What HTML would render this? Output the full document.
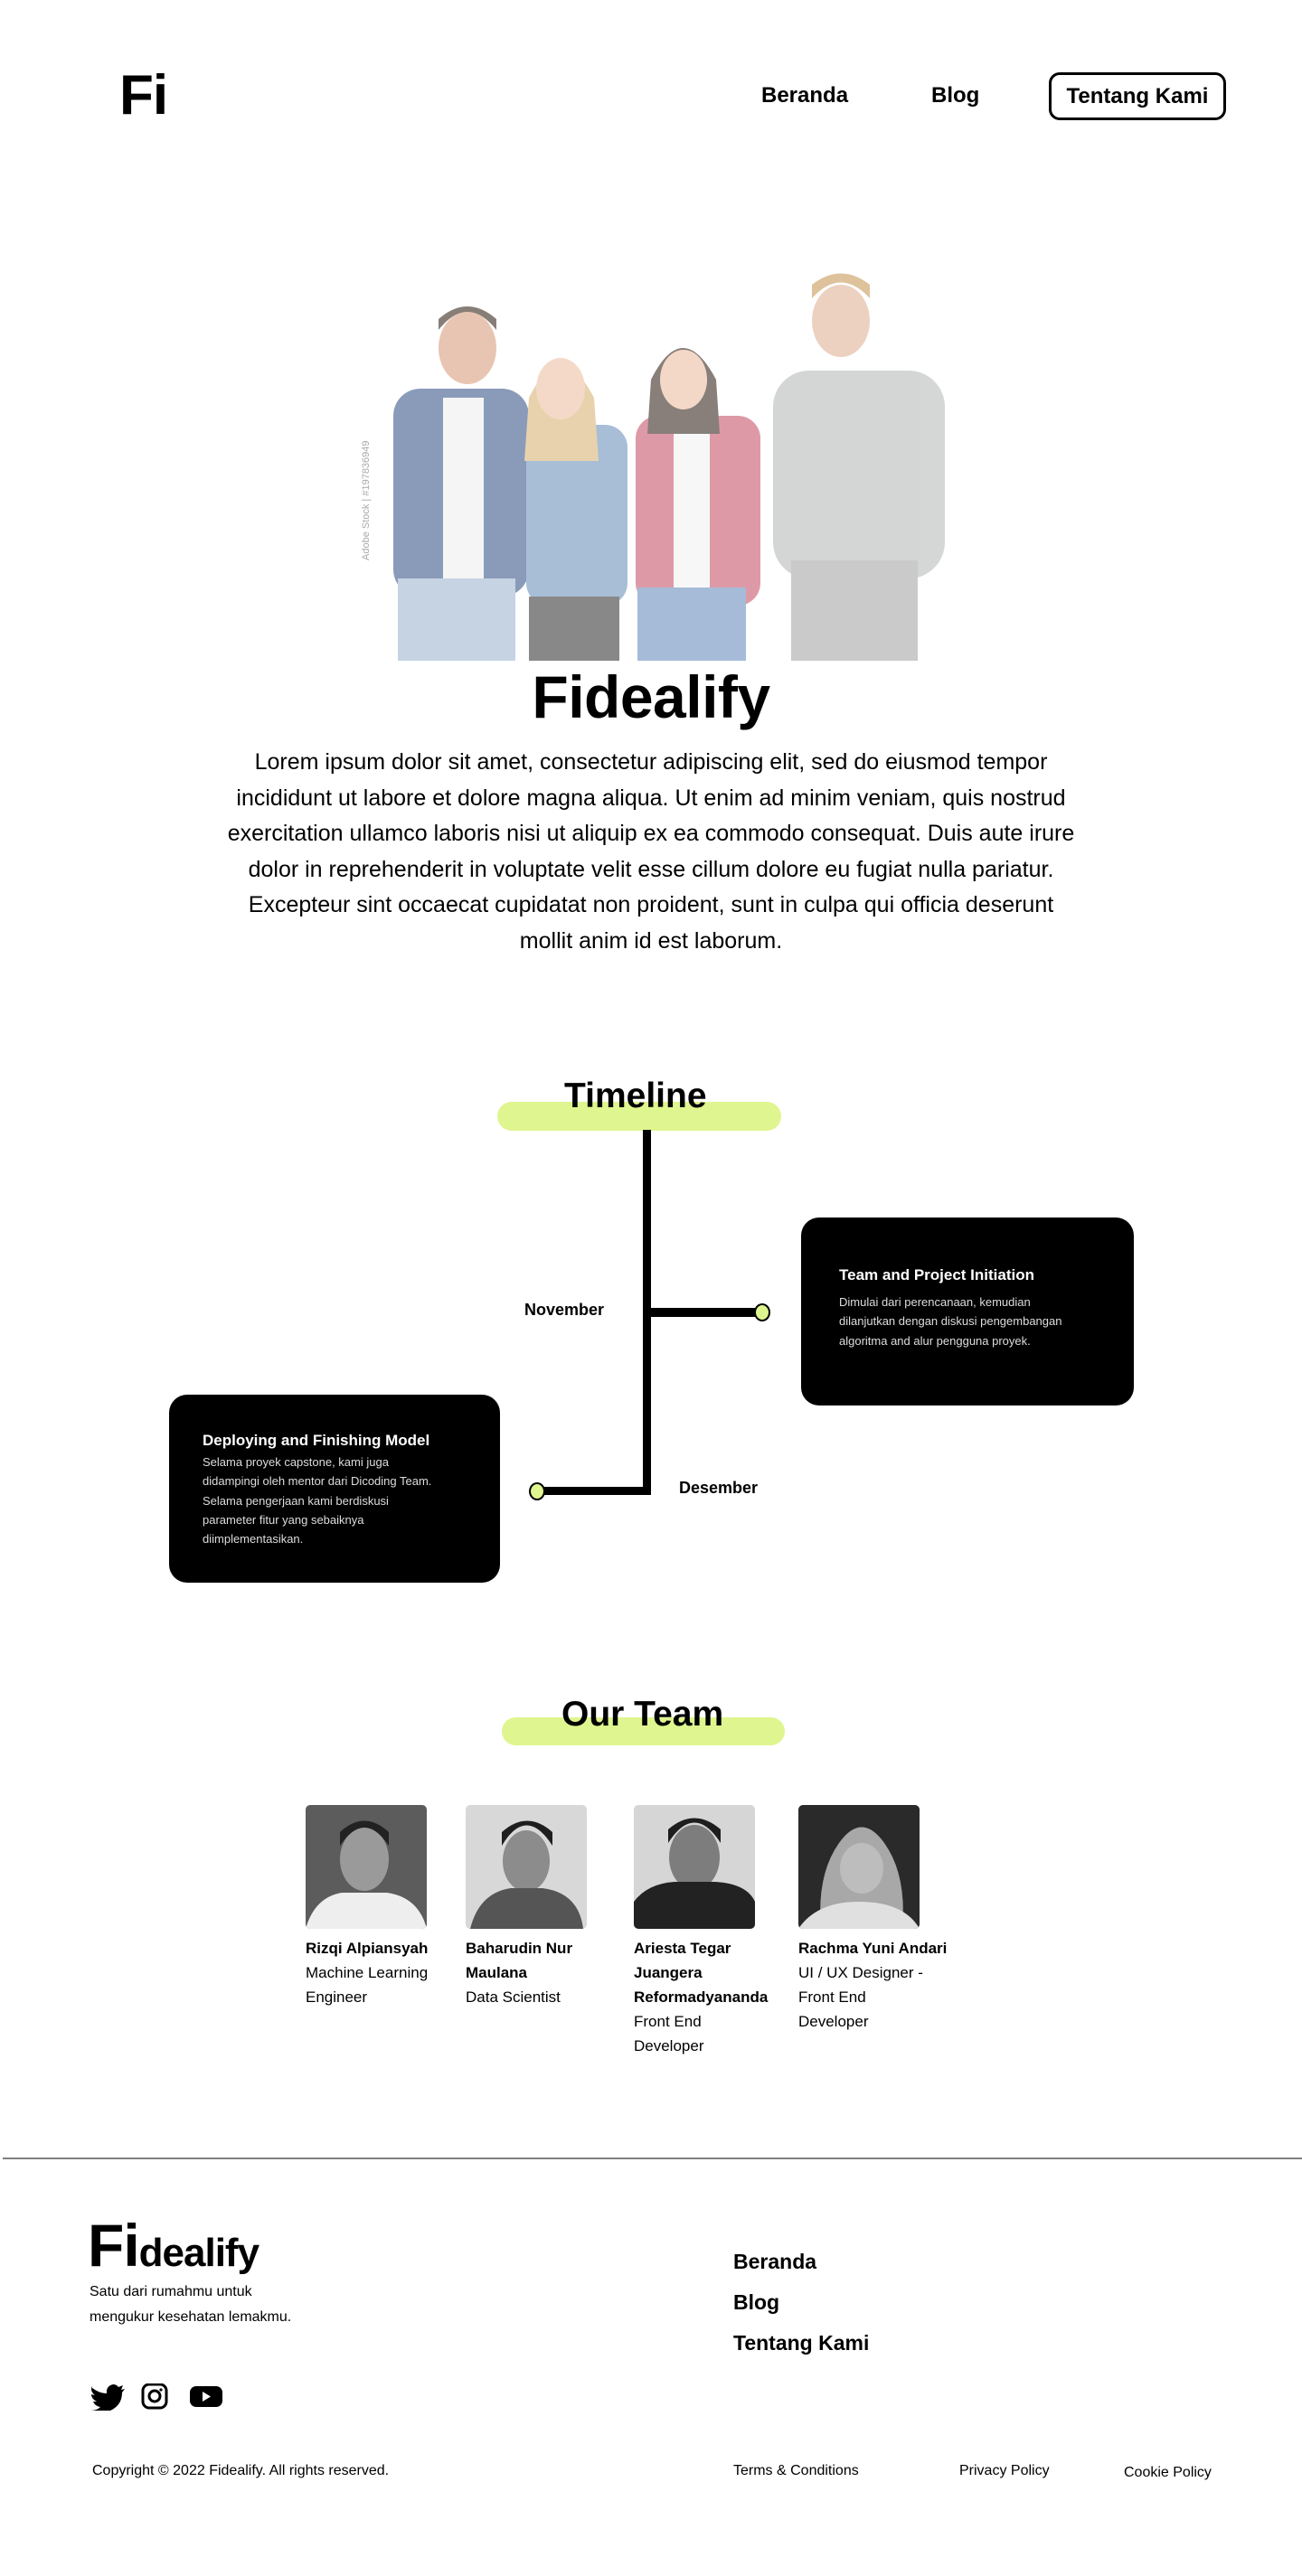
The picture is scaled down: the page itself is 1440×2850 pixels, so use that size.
<!DOCTYPE html>
<html><head><meta charset="utf-8">
<style>
*{margin:0;padding:0;box-sizing:border-box}
body{width:1440px;height:2850px;position:relative;background:#fff;font-family:"Liberation Sans",sans-serif;color:#000;overflow:hidden}
.a{position:absolute;white-space:nowrap}
.b{font-weight:bold}
.nav{font-size:24px;font-weight:bold;top:92px}
.btn{left:1160px;top:80px;width:196px;height:53px;border:3px solid #000;border-radius:12px;font-size:24px;font-weight:bold;text-align:center;line-height:47px}
.para{left:0;width:1440px;top:824px;font-size:25px;line-height:39.5px;text-align:center}
.pill{position:absolute;background:#dff58f;border-radius:16px}
.card{position:absolute;background:#000;border-radius:20px;color:#fff}
.card h4{position:absolute;font-size:17px;font-weight:bold;white-space:nowrap}
.card p{position:absolute;font-size:13px;line-height:21.3px;color:#ddd;white-space:nowrap}
.dot{position:absolute;width:18px;height:20px;border-radius:50%;background:#dff58f;border:2px solid #000}
.ph{position:absolute;width:134px;height:137px;border-radius:5px;overflow:hidden}
.tm{position:absolute;top:2145px;font-size:17px;line-height:27px;white-space:nowrap}
.tm b{display:block}
.fn{font-size:23px;font-weight:bold;left:811px}
.fs{font-size:16px;top:2728px}
</style></head><body>

<div class="a b" style="left:132px;top:70px;font-size:62px;letter-spacing:-1px">Fi</div>
<div class="a nav" style="left:842px">Beranda</div>
<div class="a nav" style="left:1030px">Blog</div>
<div class="a btn">Tentang Kami</div>

<svg class="a" style="left:392px;top:268px" width="694" height="463" viewBox="392 268 694 463">
<g opacity="0.6">
<rect x="855" y="410" width="190" height="230" rx="40" fill="#b9bcbc"/>
<rect x="875" y="620" width="140" height="111" fill="#a8a8a8"/>
<ellipse cx="930" cy="355" rx="32" ry="40" fill="#e0b497"/>
<path d="M898 330 q32 -35 64 0 l0 -15 q-32 -25 -64 0z" fill="#c89a5a"/>
<rect x="435" y="430" width="150" height="230" rx="30" fill="#3c5a8c"/>
<rect x="490" y="440" width="45" height="200" fill="#f0f0f0"/>
<rect x="440" y="640" width="130" height="91" fill="#9fb6d0"/>
<ellipse cx="517" cy="385" rx="32" ry="40" fill="#d9a07f"/>
<path d="M485 365 q32 -40 64 0 l0 -12 q-32 -28 -64 0z" fill="#3a2a20"/>
<rect x="582" y="470" width="112" height="200" rx="25" fill="#6f93be"/>
<rect x="585" y="660" width="100" height="71" fill="#3a3a3a"/>
<path d="M585 440 q35 -70 72 0 l5 70 l-82 0z" fill="#d9b57a"/>
<ellipse cx="620" cy="430" rx="27" ry="34" fill="#eec0a5"/>
<rect x="703" y="460" width="138" height="210" rx="25" fill="#c9566d"/>
<rect x="745" y="475" width="40" height="180" fill="#f2f2f2"/>
<rect x="705" y="650" width="120" height="81" fill="#6a8fbf"/>
<path d="M720 420 q35 -70 72 0 l4 60 l-80 0z" fill="#3a2a22"/>
<ellipse cx="756" cy="420" rx="26" ry="33" fill="#eebfa2"/>
</g>
<text x="408" y="620" font-size="11" fill="#aaa" transform="rotate(-90 408 620)" font-family="Liberation Sans">Adobe Stock | #197836949</text>
</svg>

<div class="a b" style="left:0;width:1440px;text-align:center;top:733px;font-size:66px;letter-spacing:-0.5px">Fidealify</div>
<div class="a para">Lorem ipsum dolor sit amet, consectetur adipiscing elit, sed do eiusmod tempor<br>incididunt ut labore et dolore magna aliqua. Ut enim ad minim veniam, quis nostrud<br>exercitation ullamco laboris nisi ut aliquip ex ea commodo consequat. Duis aute irure<br>dolor in reprehenderit in voluptate velit esse cillum dolore eu fugiat nulla pariatur.<br>Excepteur sint occaecat cupidatat non proident, sunt in culpa qui officia deserunt<br>mollit anim id est laborum.</div>

<div class="pill" style="left:550px;top:1219px;width:314px;height:32px"></div>
<div class="a b" style="left:624px;top:1191px;font-size:39px">Timeline</div>
<div class="a" style="left:711px;top:1250px;width:9px;height:404px;background:#000"></div>
<div class="a" style="left:715px;top:1447px;width:122px;height:10px;background:#000"></div>
<div class="dot" style="left:834px;top:1442px"></div>
<div class="a" style="left:594px;top:1645px;width:126px;height:9px;background:#000"></div>
<div class="dot" style="left:585px;top:1640px"></div>
<div class="a b" style="left:580px;top:1439px;font-size:18px">November</div>
<div class="a b" style="left:751px;top:1636px;font-size:18px">Desember</div>

<div class="card" style="left:886px;top:1347px;width:368px;height:208px">
<h4 style="left:42px;top:54px">Team and Project Initiation</h4>
<p style="left:42px;top:83px">Dimulai dari perencanaan, kemudian<br>dilanjutkan dengan diskusi pengembangan<br>algoritma and alur pengguna proyek.</p>
</div>
<div class="card" style="left:187px;top:1543px;width:366px;height:208px">
<h4 style="left:37px;top:41px">Deploying and Finishing Model</h4>
<p style="left:37px;top:64px">Selama proyek capstone, kami juga<br>didampingi oleh mentor dari Dicoding Team.<br>Selama pengerjaan kami berdiskusi<br>parameter fitur yang sebaiknya<br>diimplementasikan.</p>
</div>

<div class="pill" style="left:555px;top:1900px;width:313px;height:31px"></div>
<div class="a b" style="left:621px;top:1875px;font-size:39px">Our Team</div>

<div class="ph" style="left:338px;top:1997px;background:#5c5c5c">
<svg width="134" height="137"><ellipse cx="65" cy="60" rx="27" ry="35" fill="#9a9a9a"/><path d="M38 45 q27 -40 54 0 l0 -15 q-27 -25 -54 0z" fill="#222"/><path d="M0 137 q10 -35 40 -40 l50 0 q35 5 44 40z" fill="#eee"/></svg></div>
<div class="ph" style="left:515px;top:1997px;background:#d8d8d8">
<svg width="134" height="137"><ellipse cx="67" cy="62" rx="26" ry="34" fill="#8c8c8c"/><path d="M40 45 q27 -45 56 0 l0 -15 q-28 -25 -56 0z" fill="#1e1e1e"/><path d="M5 137 q10 -40 45 -45 l35 0 q40 5 45 45z" fill="#555"/></svg></div>
<div class="ph" style="left:701px;top:1997px;background:#d6d6d6">
<svg width="134" height="137"><ellipse cx="67" cy="58" rx="28" ry="36" fill="#7d7d7d"/><path d="M38 42 q29 -45 58 0 l0 -15 q-29 -25 -58 0z" fill="#1e1e1e"/><path d="M0 137 l0 -30 q15 -20 45 -22 l45 0 q35 2 44 22 l0 30z" fill="#222"/></svg></div>
<div class="ph" style="left:883px;top:1997px;background:#2a2a2a">
<svg width="134" height="137"><path d="M25 137 q-5 -60 20 -95 q25 -35 50 0 q25 35 20 95z" fill="#a8a8a8"/><ellipse cx="70" cy="70" rx="24" ry="28" fill="#bdbdbd"/><path d="M0 137 q20 -30 67 -30 q50 0 67 30z" fill="#e0e0e0"/></svg></div>

<div class="tm" style="left:338px;top:2142px"><b>Rizqi Alpiansyah</b>Machine Learning<br>Engineer</div>
<div class="tm" style="left:515px;top:2142px"><b>Baharudin Nur<br>Maulana</b>Data Scientist</div>
<div class="tm" style="left:701px;top:2142px"><b>Ariesta Tegar<br>Juangera<br>Reformadyananda</b>Front End<br>Developer</div>
<div class="tm" style="left:883px;top:2142px"><b>Rachma Yuni Andari</b>UI / UX Designer -<br>Front End<br>Developer</div>

<div class="a" style="left:3px;top:2387px;width:1437px;height:2px;background:#808080"></div>
<div class="a b" style="left:97px;top:2446px;letter-spacing:-1px"><span style="font-size:66px">Fi</span><span style="font-size:44px">dealify</span></div>
<div class="a" style="left:99px;top:2522px;font-size:16px;line-height:28px">Satu dari rumahmu untuk<br>mengukur kesehatan lemakmu.</div>
<svg class="a" style="left:100px;top:2637px" width="150" height="30">
<path d="M2 5 q8 6 16 6 q-1 -8 7 -10 q4 0 6 3 l5 -2 l-2 5 l4 -1 l-3 4 q0 14 -13 20 q-10 4 -22 0 q7 0 11 -4 q-6 -1 -8 -6 l4 0 q-6 -3 -6 -8 l4 1 q-6 -5 -3 -10z" fill="#000"/>
<rect x="58" y="1" width="26" height="26" rx="7" fill="none" stroke="#000" stroke-width="3"/><circle cx="71" cy="14" r="6" fill="none" stroke="#000" stroke-width="3"/><circle cx="78" cy="7" r="1.6" fill="#000"/>
<rect x="110" y="3" width="36" height="23" rx="7" fill="#000"/><path d="M124 9 l9 5.5 l-9 5.5z" fill="#fff"/>
</svg>
<div class="a fn" style="top:2489px">Beranda</div>
<div class="a fn" style="top:2534px">Blog</div>
<div class="a fn" style="top:2579px">Tentang Kami</div>
<div class="a fs" style="left:102px;top:2725px">Copyright © 2022 Fidealify. All rights reserved.</div>
<div class="a fs" style="left:811px;top:2725px">Terms &amp; Conditions</div>
<div class="a fs" style="left:1061px;top:2725px">Privacy Policy</div>
<div class="a fs" style="left:1243px;top:2727px">Cookie Policy</div>
</body></html>
